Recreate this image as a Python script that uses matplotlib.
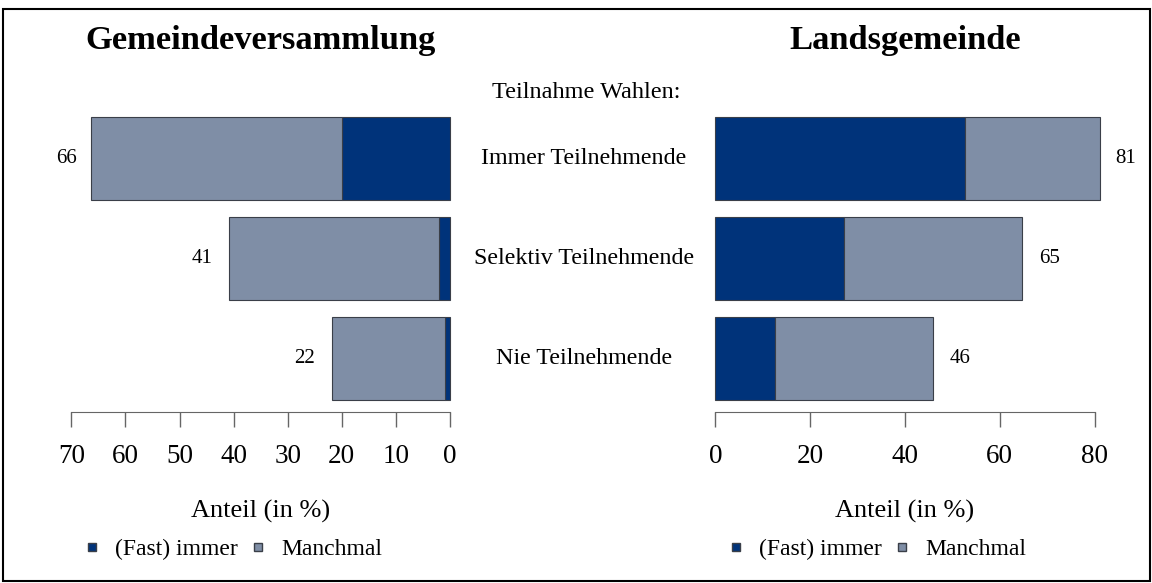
import numpy as np
import matplotlib.pyplot as plt
from matplotlib.lines import Line2D
from matplotlib.patches import Rectangle

plt.rcParams['font.family'] = ['Liberation Serif', 'DejaVu Serif']

categories = ["Immer Teilnehmende", "Selektiv Teilnehmende", "Nie Teilnehmende"]

# Gemeindeversammlung: (fast) immer / manchmal (in %)
gv_immer = [20, 2, 1]
gv_manchmal = [46.4, 38.8, 20.8]
gv_total = [66, 41, 22]

# Landsgemeinde
lg_immer = [52.7, 27.2, 12.5]
lg_manchmal = [28.4, 37.5, 33.4]
lg_total = [81, 65, 46]

DARK = "#00337a"
LIGHT = "#7f8ea6"
EDGE = "#3a3f48"

W, H = 1152, 583
fig = plt.figure(figsize=(W / 100, H / 100), dpi=100)


def px_ax(x0, x1, y_top, y_bot):
    return fig.add_axes([x0 / W, 1 - y_bot / H, (x1 - x0) / W, (y_bot - y_top) / H])


ypos = np.array([3, 2, 1])
ylim = (0.465, 3.535)


def draw_panel(ax, immer, manchmal, total, xlim, ticks, sign):
    ax.barh(ypos, immer, height=0.83, color=DARK, edgecolor=EDGE, linewidth=0.8, clip_on=False)
    ax.barh(ypos, manchmal, left=immer, height=0.83, color=LIGHT, edgecolor=EDGE,
            linewidth=0.8, clip_on=False)
    for y, t in zip(ypos, total):
        ax.annotate(str(t), xy=(t, y), xytext=(sign * 16, 0), textcoords="offset pixels",
                    ha="left" if sign > 0 else "right", va="center", fontsize=15,
                    annotation_clip=False)
    ax.set_xlim(*xlim)
    ax.set_ylim(*ylim)
    ax.set_xticks(ticks)
    ax.set_yticks([])
    for s in ["top", "left", "right"]:
        ax.spines[s].set_visible(False)
    ax.spines["bottom"].set_color("#666666")
    ax.tick_params(axis="x", length=11, width=1, color="#666666", labelsize=19.5, pad=12)
    ax.set_xlabel("Anteil (in %)", fontsize=19, labelpad=22)
    ax.patch.set_alpha(0)


ax1 = px_ax(71.3, 450, 105, 412)
draw_panel(ax1, gv_immer, gv_manchmal, gv_total, (70, 0), [70, 60, 50, 40, 30, 20, 10, 0], -1)

ax2 = px_ax(715.3, 1094.7, 105, 412)
draw_panel(ax2, lg_immer, lg_manchmal, lg_total, (0, 80), [0, 20, 40, 60, 80], 1)

# titles
fig.text(261 / W, 1 - 41 / H, "Gemeindeversammlung", ha="center", va="center",
         fontsize=24.8, fontweight="bold")
fig.text(905 / W, 1 - 41 / H, "Landsgemeinde", ha="center", va="center",
         fontsize=24.8, fontweight="bold")
fig.text(586 / W, 1 - 93 / H, "Teilnahme Wahlen:", ha="center", va="center", fontsize=17.5)
for cat, ypx in zip(categories, [158.5, 258.5, 358.5]):
    fig.text(584 / W, 1 - ypx / H, cat, ha="center", va="center", fontsize=17.3)

# legends
handles = [
    Line2D([], [], marker="s", linestyle="none", markersize=5.5, markerfacecolor=DARK,
           markeredgecolor=EDGE, label="(Fast) immer"),
    Line2D([], [], marker="s", linestyle="none", markersize=5.5, markerfacecolor=LIGHT,
           markeredgecolor=EDGE, label="Manchmal"),
]
for xl in [80, 724]:
    fig.legend(handles=handles, loc="center left", bbox_to_anchor=(xl / W, 1 - 549 / H),
               ncol=2, frameon=False, fontsize=17, handletextpad=0.5, columnspacing=0.35,
               handlelength=1.0, borderaxespad=0, borderpad=0)

# frame around the whole figure
fig.patches.append(Rectangle((3 / W, 2 / H), (W - 5) / W, (H - 11) / H,
                             transform=fig.transFigure, fill=False, edgecolor="black",
                             linewidth=1.5))

fig.savefig("out.png", dpi=100)
